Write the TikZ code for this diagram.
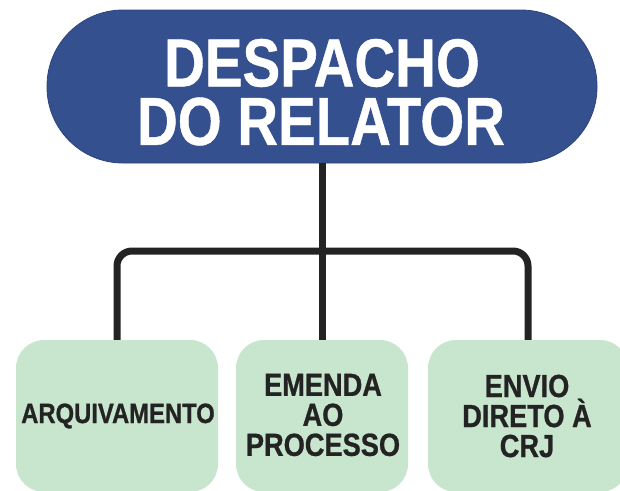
\documentclass[tikz,border=0pt]{standalone}
\usepackage{fontspec}
\setmainfont{Liberation Sans}
\newfontfamily\titlefont{Liberation Sans}[FakeStretch=0.83,FakeBold=0.6]
\newfontfamily\boxfont{Liberation Sans}[FakeStretch=0.85,FakeBold=0.8]
\definecolor{pillblue}{HTML}{34508F}
\definecolor{boxgreen}{HTML}{C8E5CD}
\definecolor{ink}{HTML}{232323}
\tikzset{
  pill/.style={fill=pillblue, draw=pillblue!85!black, line width=0.8pt, rounded corners=76pt,
    minimum width=550pt, minimum height=153pt, inner sep=0pt},
  titletext/.style={text=white, font=\titlefont\bfseries\fontsize{68}{59}\selectfont, inner sep=0pt},
  leaf/.style={fill=boxgreen, draw=none, rounded corners=28pt, minimum height=152pt, inner sep=0pt},
  leaftext/.style={text=ink, align=center, inner sep=0pt, font=\boxfont\bfseries\fontsize{32}{30}\selectfont},
  conn/.style={draw=ink, line width=7pt}
}
\begin{document}
\begin{tikzpicture}[x=1pt,y=-1pt]
\useasboundingbox (0,0) rectangle (620,490);
\begin{scope}
\clip (0,0) rectangle (620,490);
% top pill
\node[pill] (top) at (322,86.5) {};
\node[titletext] (title1) at (322,63) {DESPACHO};
\node[titletext] (title2) at (321,121.5) {DO RELATOR};
% leaf boxes
\node[leaf, minimum width=202pt] (b1) at (117,416) {};
\node[leaf, minimum width=172pt] (b2) at (322,416) {};
\node[leaf, minimum width=200pt] (b3) at (528,416) {};
\coordinate (bar) at (322,251);
\draw[conn] (top.south) -- (b2.north);
\draw[conn, rounded corners=15pt] (b1.north) |- (bar) -| (b3.north);
% labels
\node[leaftext, font=\boxfont\bfseries\fontsize{28}{28}\selectfont] (t1) at (118,416) {ARQUIVAMENTO};
\node[leaftext] (t2) at (323,415) {EMENDA\\AO\\PROCESSO};
\node[leaftext] (t3) at (527,416) {ENVIO\\DIRETO À\\CRJ};
\end{scope}
\end{tikzpicture}
\end{document}
